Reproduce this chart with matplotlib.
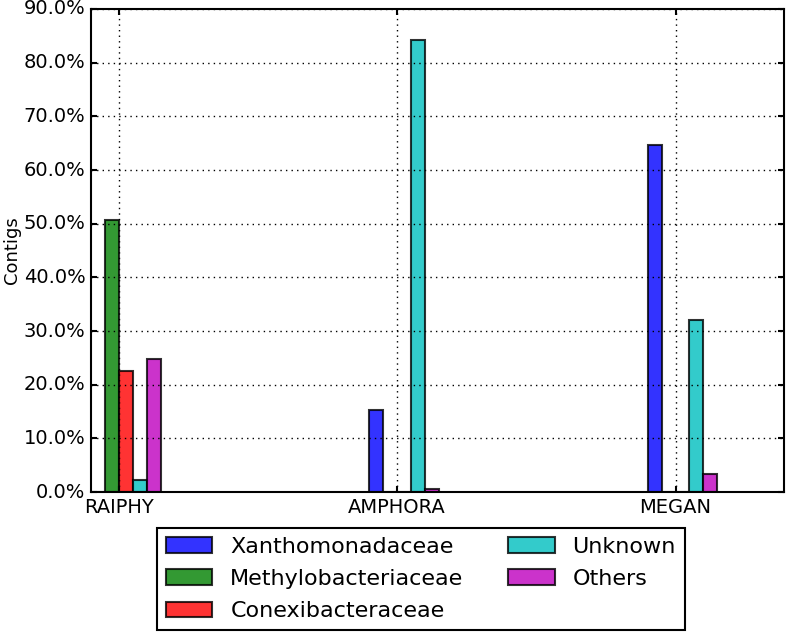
import matplotlib
matplotlib.use('Agg')
import matplotlib.pyplot as plt
import numpy as np
from matplotlib.ticker import FuncFormatter

plt.style.use('classic')

tools = ['RAIPHY', 'AMPHORA', 'MEGAN']
families = ['Xanthomonadaceae', 'Methylobacteriaceae', 'Conexibacteraceae', 'Unknown', 'Others']
colors = ['blue', 'green', 'red', 'c', 'm']

xanthomonadaceae = [0.0, 15.2, 64.7]
methylobacteriaceae = [50.6, 0.0, 0.0]
conexibacteraceae = [22.5, 0.0, 0.0]
unknown = [2.2, 84.3, 32.0]
others = [24.7, 0.5, 3.3]

series = [xanthomonadaceae, methylobacteriaceae, conexibacteraceae, unknown, others]

fig = plt.figure(figsize=(7.88, 6.33), dpi=100, facecolor='white')
ax = fig.add_axes([0.1155, 0.2227, 0.8795, 0.7631])

x = np.arange(len(tools))
w = 0.05
for i, (vals, name, col) in enumerate(zip(series, families, colors)):
    ax.bar(x + (i - 2) * w, vals, w, align='edge', color=col, alpha=0.8,
           edgecolor='black', linewidth=1.5, label=name)

ax.set_xlim(-0.1, 2.39)
ax.set_ylim(0, 90)
ax.set_yticks(np.arange(0, 91, 10))
ax.yaxis.set_major_formatter(FuncFormatter(lambda v, p: '%.1f%%' % v))
ax.set_xticks(x)
ax.set_xticklabels(tools)
ax.tick_params(labelsize=14, width=1.5)
ax.set_ylabel('Contigs', fontsize=13, labelpad=2)
ax.grid(True, linewidth=1)
for s in ax.spines.values():
    s.set_linewidth(1.5)

leg = fig.legend(loc='upper center', bbox_to_anchor=(0.534, 0.166), ncol=2,
                 fontsize=16, handlelength=2.1, labelspacing=0.55,
                 borderaxespad=0, frameon=True, fancybox=False)
leg.get_frame().set_linewidth(1.5)

plt.savefig('out.png', dpi=100, facecolor='white')
